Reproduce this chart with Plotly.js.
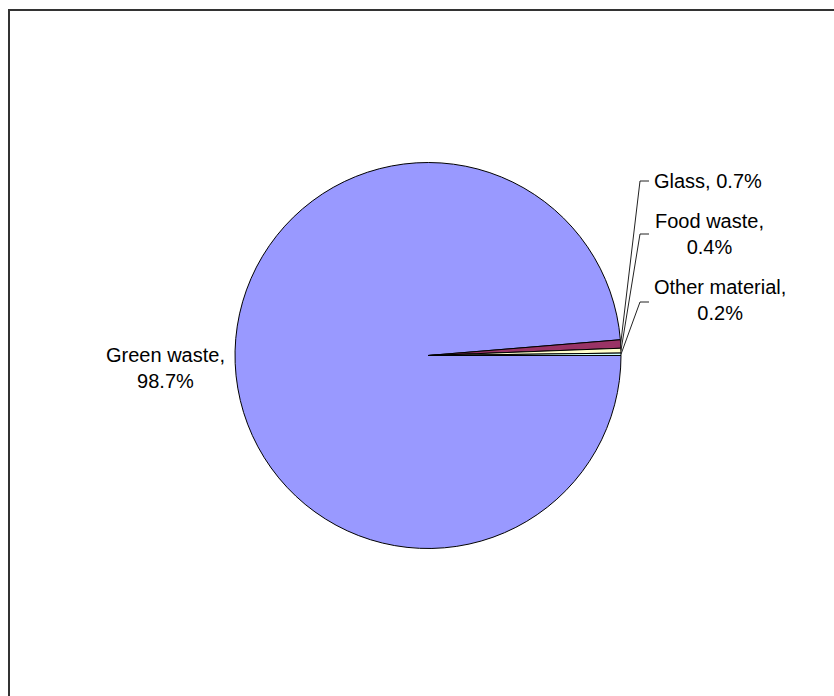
<!DOCTYPE html>
<html>
<head>
<meta charset="utf-8">
<script src="https://cdn.plot.ly/plotly-3.0.1.min.js"></script>
<style>html,body{margin:0;padding:0;background:#fff;}#chart{width:834px;height:696px;}</style>
</head>
<body>
<div id="chart"></div>
<script>
// ---- data ----
var categories = ["Green waste", "Glass", "Food waste", "Other material"];
var percentages = [98.7, 0.7, 0.4, 0.2];
var sliceColors = ["#9999FF", "#993366", "#FFFFCC", "#CCFFFF"];
var labelBreak = [true, false, true, true];

// ---- layout geometry (pixels) ----
var W = 834, H = 696;
var cx = 428, cy = 355.5, R = 193;
var labelPos = [
  {x: 165, y: 368, xanchor: "center"},
  {x: 652, y: 181, xanchor: "left"},
  {x: 709, y: 234, xanchor: "center"},
  {x: 720, y: 300, xanchor: "center"}
];
var elbows = [null, {x: 640, y: 181, end: 649}, {x: 640, y: 234, end: 649}, {x: 640, y: 302, end: 649}];

function fx(px) { return px / W; }
function fy(py) { return 1 - py / H; }

var total = percentages.reduce(function(a, b) { return a + b; }, 0);
var annotations = [], shapes = [];
var cum = 0;
for (var i = 0; i < categories.length; i++) {
  var startDeg = -(cum / total) * 360;
  cum += percentages[i];
  var endDeg = -(cum / total) * 360;
  var mid = (startDeg + endDeg) / 2;
  var rad = mid * Math.PI / 180;
  var ax = cx + R * Math.cos(rad);
  var ay = cy - R * Math.sin(rad);
  var txt = categories[i] + "," + (labelBreak[i] ? "<br>" : " ") + percentages[i].toFixed(1) + "%";
  annotations.push({
    xref: "paper", yref: "paper",
    x: fx(labelPos[i].x), y: fy(labelPos[i].y),
    xanchor: labelPos[i].xanchor, yanchor: "middle",
    text: txt, showarrow: false, align: "center",
    font: {family: "Liberation Sans, Arial, sans-serif", size: 20, color: "#000"}
  });
  if (elbows[i]) {
    var e = elbows[i];
    shapes.push({
      type: "path", xref: "paper", yref: "paper",
      path: "M " + fx(ax) + "," + fy(ay) + " L " + fx(e.x) + "," + fy(e.y) + " L " + fx(e.end) + "," + fy(e.y),
      line: {color: "#222", width: 1}
    });
  }
}
// chart-area border (runs off right and bottom edges)
shapes.push({
  type: "rect", xref: "paper", yref: "paper",
  x0: fx(9), y0: fy(10), x1: fx(W + 10), y1: fy(H + 10),
  line: {color: "#333333", width: 2}, fillcolor: "rgba(0,0,0,0)"
});

var trace = {
  type: "pie",
  labels: categories,
  values: percentages,
  sort: false,
  direction: "clockwise",
  rotation: 90,
  textinfo: "none",
  hoverinfo: "none",
  marker: {colors: sliceColors, line: {color: "#000", width: 1}},
  domain: {x: [fx(cx - R), fx(cx + R)], y: [fy(cy + R), fy(cy - R)]}
};

var layout = {
  width: W, height: H,
  margin: {l: 0, r: 0, t: 0, b: 0},
  paper_bgcolor: "#fff",
  showlegend: false,
  annotations: annotations,
  shapes: shapes
};

Plotly.newPlot("chart", [trace], layout, {displayModeBar: false, staticPlot: true});
</script>
</body>
</html>
